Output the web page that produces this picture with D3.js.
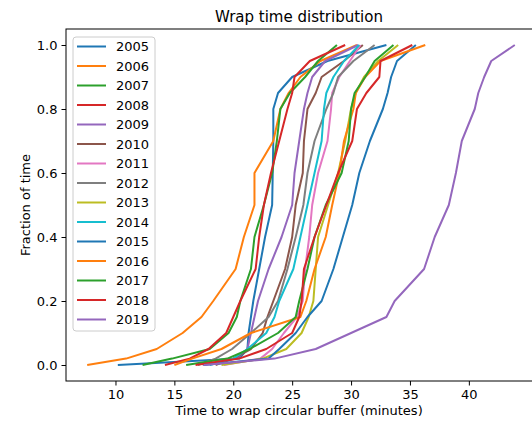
<!DOCTYPE html>
<html>
<head>
<meta charset="utf-8">
<script src="https://cdn.jsdelivr.net/npm/d3@7"></script>
<style>
  body { margin: 0; background: #fff; }
  text { font-family: "DejaVu Sans", sans-serif; fill: #000; }
</style>
</head>
<body>
<div id="chart"></div>
<script>
var fractions = [0, 0.02, 0.05, 0.1, 0.15, 0.2, 0.3, 0.4, 0.5, 0.6, 0.7, 0.8, 0.85, 0.9, 0.95, 1.0];

var years = ["2005", "2006", "2007", "2008", "2009", "2010", "2011", "2012",
  "2013", "2014", "2015", "2016", "2017", "2018", "2019"];

// minutes to wrap, one value per fraction above
var t2005 = [10.2, 20.5, 21.2, 21.3, 21.5, 21.7, 22.2, 22.7, 23.3, 23.35, 23.4, 23.4, 23.8, 25.0, 28.0, 33.0];
var t2006 = [7.6, 10.9, 13.5, 15.7, 17.3, 18.3, 20.2, 20.9, 21.8, 21.8, 23.4, 24.0, 24.7, 25.7, 27.4, 30.5];
var t2007 = [12.3, 14.8, 18.0, 19.6, 20.3, 20.6, 21.5, 21.8, 22.6, 23.3, 23.7, 24.0, 24.8, 26.1, 27.2, 28.8];
var t2008 = [14.2, 16.3, 17.9, 19.4, 20.0, 20.6, 21.9, 22.2, 22.6, 23.2, 23.9, 24.6, 25.0, 25.2, 26.5, 29.5];
var t2009 = [17.4, 20.3, 21.2, 21.5, 21.8, 22.1, 23.0, 24.1, 25.0, 25.2, 25.6, 26.0, 26.3, 26.7, 27.8, 30.6];
var t2010 = [18.5, 20.0, 21.5, 22.5, 22.9, 23.4, 24.4, 25.0, 25.3, 25.9, 26.0, 26.3, 27.0, 27.5, 29.4, 31.0];
var t2011 = [19.2, 22.3, 23.3, 24.3, 25.4, 25.9, 26.1, 26.45, 26.7, 27.2, 28.0, 28.3, 28.4, 29.0, 29.9, 30.8];
var t2012 = [17.0, 18.5, 19.9, 21.5, 23.0, 23.8, 24.6, 25.3, 25.95, 26.3, 26.9, 27.9, 28.5, 28.9, 30.2, 32.0];
var t2013 = [19.0, 22.5, 24.5, 25.8, 26.4, 26.8, 27.0, 27.2, 28.05, 28.9, 29.5, 30.0, 30.4, 31.1, 32.3, 34.0];
var t2014 = [18.0, 20.0, 21.2, 22.8, 23.5, 23.9, 25.1, 25.7, 26.3, 26.9, 27.5, 27.7, 27.9, 28.5, 29.4, 30.7];
var t2015 = [17.5, 23.0, 23.9, 25.3, 26.3, 27.5, 28.5, 29.3, 30.1, 30.7, 31.6, 32.7, 33.1, 33.4, 33.9, 35.5];
var t2016 = [15.0, 16.5, 19.0, 21.5, 25.7, 26.2, 26.9, 27.85, 28.4, 29.0, 29.4, 30.2, 30.4, 31.2, 32.5, 36.3];
var t2017 = [16.0, 19.5, 21.4, 23.8, 25.3, 25.6, 26.3, 26.9, 27.85, 29.2, 29.8, 30.0, 30.3, 31.2, 32.0, 33.6];
var t2018 = [16.8, 20.5, 22.8, 25.0, 25.6, 25.8, 26.0, 26.9, 27.9, 28.9, 30.1, 30.5, 31.3, 32.4, 32.5, 35.2];
var t2019 = [17.5, 23.5, 27.0, 30.0, 33.0, 33.7, 36.2, 37.1, 38.3, 38.9, 39.4, 40.5, 40.8, 41.3, 41.9, 43.9];

var times = [t2005, t2006, t2007, t2008, t2009, t2010, t2011, t2012,
  t2013, t2014, t2015, t2016, t2017, t2018, t2019];

var xTicks = [10, 15, 20, 25, 30, 35, 40];
var yTicks = [0, 0.2, 0.4, 0.6, 0.8, 1.0];

var tab10 = ["#1f77b4", "#ff7f0e", "#2ca02c", "#d62728", "#9467bd",
  "#8c564b", "#e377c2", "#7f7f7f", "#bcbd22", "#17becf"];

var svgW = 532, svgH = 421;
var plot = { left: 66, right: 536, top: 29, bottom: 381 };

var svg = d3.select("#chart").append("svg")
  .attr("width", svgW)
  .attr("height", svgH);

var x = d3.scaleLinear().domain([5.8, 45.7]).range([plot.left, plot.right]);
var y = d3.scaleLinear().domain([-0.05, 1.05]).range([plot.bottom, plot.top]);

var line = d3.line()
  .x(d => x(d[0]))
  .y(d => y(d[1]));

// series, drawn in year order so later years sit on top
svg.append("g")
  .selectAll("path")
  .data(times)
  .join("path")
  .attr("fill", "none")
  .attr("stroke", (d, i) => tab10[i % 10])
  .attr("stroke-width", 2)
  .attr("stroke-linejoin", "round")
  .attr("d", d => line(d.map((t, j) => [t, fractions[j]])));

// spines
svg.append("rect")
  .attr("x", plot.left).attr("y", plot.top)
  .attr("width", plot.right - plot.left).attr("height", plot.bottom - plot.top)
  .attr("fill", "none")
  .attr("stroke", "#000")
  .attr("stroke-width", 1);

// axes
var xAxis = svg.append("g")
  .attr("transform", `translate(0,${plot.bottom})`)
  .call(d3.axisBottom(x).tickValues(xTicks).tickSize(4.5).tickPadding(4).tickFormat(d3.format("d")));

var yAxis = svg.append("g")
  .attr("transform", `translate(${plot.left},0)`)
  .call(d3.axisLeft(y).tickValues(yTicks).tickSize(4.5).tickPadding(4).tickFormat(d3.format(".1f")));

[xAxis, yAxis].forEach(a => {
  a.select(".domain").remove();
  a.selectAll("text").attr("font-size", 13).attr("font-family", "DejaVu Sans");
});

// title and labels
svg.append("text")
  .attr("x", (plot.left + plot.right) / 2 - 2)
  .attr("y", 22)
  .attr("text-anchor", "middle")
  .attr("font-size", 15)
  .text("Wrap time distribution");

svg.append("text")
  .attr("x", (plot.left + plot.right) / 2 - 2)
  .attr("y", 415)
  .attr("text-anchor", "middle")
  .attr("font-size", 13)
  .text("Time to wrap circular buffer (minutes)");

svg.append("text")
  .attr("transform", `translate(30,${(plot.top + plot.bottom) / 2}) rotate(-90)`)
  .attr("text-anchor", "middle")
  .attr("font-size", 13)
  .text("Fraction of time");

// legend
var legend = svg.append("g").attr("transform", "translate(73,37)");

legend.append("rect")
  .attr("width", 82)
  .attr("height", 294)
  .attr("rx", 3)
  .attr("fill", "#fff")
  .attr("fill-opacity", 0.8)
  .attr("stroke", "#ccc");

var entries = legend.selectAll("g.entry")
  .data(years)
  .join("g")
  .attr("class", "entry")
  .attr("transform", (d, i) => `translate(0,${9.5 + i * 19.5})`);

entries.append("line")
  .attr("x1", 4).attr("x2", 33)
  .attr("stroke", (d, i) => tab10[i % 10])
  .attr("stroke-width", 2);

entries.append("text")
  .attr("x", 43)
  .attr("dy", "0.35em")
  .attr("font-size", 13)
  .text(d => d);
</script>
</body>
</html>
